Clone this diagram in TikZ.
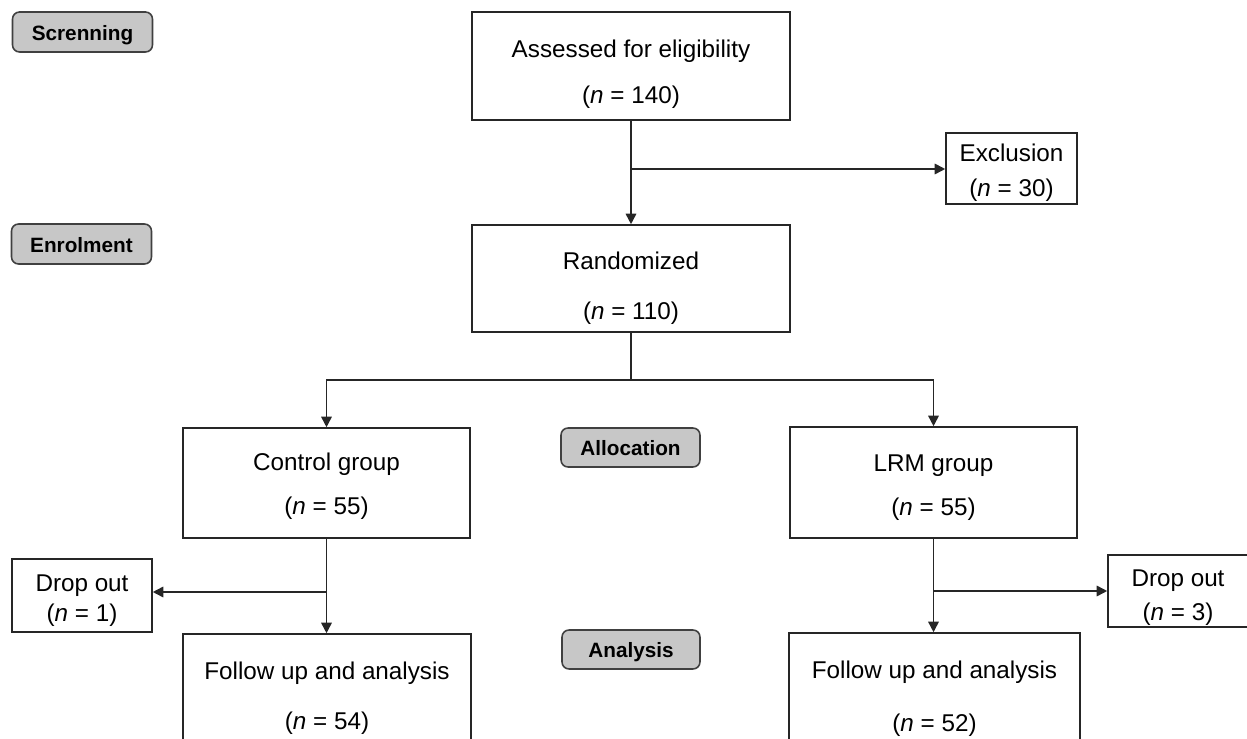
\documentclass[tikz,border=0pt]{standalone}
\usepackage{fontspec}
\setmainfont{Liberation Sans}
\usetikzlibrary{arrows.meta}
\newcommand{\tstrut}[1]{\rule{0pt}{#1}}
\newcommand{\lowlbl}[2]{\raisebox{-#1}[\height][\depth]{#2}}
\begin{document}
\begin{tikzpicture}[x=0.02cm,y=-0.02cm,
  box/.style={draw=black!85,line width=0.9pt,inner sep=0pt,align=center,
    font=\fontsize{13.8}{16}\selectfont},
  stagelbl/.style={draw=black!75,line width=0.9pt,fill=black!22,rounded corners=4pt,
    inner sep=0pt,minimum width=2.8cm,minimum height=0.8cm,
    font=\fontsize{11.8}{14}\selectfont\bfseries},
  arr/.style={line width=0.9pt,draw=black!85,-{Triangle[length=6pt,width=6pt]}},
  ln/.style={line width=0.9pt,draw=black!85}]
\useasboundingbox (0,0) rectangle (1247,739);

% stage labels
\node[stagelbl] (screen) at (82.5,32) {\lowlbl{1.7pt}{Screnning}};
\node[stagelbl] (enrol) at (81.5,244) {\lowlbl{0.6pt}{Enrolment}};
\node[stagelbl,minimum width=2.78cm,minimum height=0.78cm] (alloc) at (630.5,447.5) {\lowlbl{0.6pt}{Allocation}};
\node[stagelbl,minimum width=2.76cm,minimum height=0.78cm] (anal) at (631,649.5) {\lowlbl{1.7pt}{Analysis}};

% boxes
\node[box,minimum width=6.36cm,minimum height=2.16cm] (assess) at (631,66)
  {\tstrut{19.4pt}Assessed for eligibility\\[10.6pt](\textit{n} = 140)};
\node[box,minimum width=2.62cm,minimum height=1.42cm] (excl) at (1011.5,168.5)
  {\tstrut{14.5pt}Exclusion\\[3.8pt](\textit{n} = 30)};
\node[box,minimum width=6.36cm,minimum height=2.14cm] (rand) at (631,278.5)
  {\tstrut{21pt}Randomized\\[12.4pt](\textit{n} = 110)};
\node[box,minimum width=5.74cm,minimum height=2.2cm] (ctrl) at (326.5,483)
  {\tstrut{13.5pt}Control group\\[8.8pt](\textit{n} = 55)};
\node[box,minimum width=5.74cm,minimum height=2.22cm] (lrm) at (933.5,482.5)
  {\tstrut{15.2pt}LRM group\\[9pt](\textit{n} = 55)};
\node[box,minimum width=2.8cm,minimum height=1.46cm] (dropL) at (82,595.5)
  {\tstrut{15.2pt}Drop out\\[1.4pt](\textit{n} = 1)};
\node[box,minimum width=2.8cm,minimum height=1.44cm] (dropR) at (1178,591)
  {\tstrut{17.5pt}Drop out\\[3.3pt](\textit{n} = 3)};
\node[box,minimum width=5.76cm,minimum height=2.2cm] (fuL) at (327,689)
  {\tstrut{20.3pt}Follow up and analysis\\[12.4pt](\textit{n} = 54)};
\node[box,minimum width=5.82cm,minimum height=2.2cm] (fuR) at (934.5,688)
  {\tstrut{22pt}Follow up and analysis\\[14.1pt](\textit{n} = 52)};

% connectors
\coordinate (b1) at (631,169);
\coordinate (split) at (631,380);
\coordinate (b2) at (326.5,592);
\coordinate (b3) at (933.5,591);

\draw[arr] (assess.south) -- (rand.north);
\draw[arr] (b1) -- (excl.west |- b1);
\draw[ln] (rand.south) -- (split);
\draw[arr] (split) -| (ctrl.north);
\draw[arr] (split) -| (lrm.north);
\draw[arr] (ctrl.south) -- (fuL.north -| ctrl.south);
\draw[arr] (b2) -- (dropL.east |- b2);
\draw[arr] (lrm.south) -- (fuR.north -| lrm.south);
\draw[arr] (b3) -- (dropR.west |- b3);
\end{tikzpicture}
\end{document}
